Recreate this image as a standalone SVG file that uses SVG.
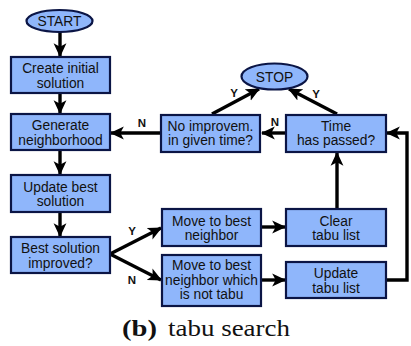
<svg xmlns="http://www.w3.org/2000/svg" width="411" height="346" viewBox="0 0 411 346">
  <style>
    .box { fill: #8fb6fb; stroke: #0b1545; stroke-width: 2.2; }
    .txt { font-family: "Liberation Sans", Arial, sans-serif; font-size: 13.8px; fill: #111; text-anchor: middle; }
    .lbl { font-family: "Liberation Sans", Arial, sans-serif; font-size: 11.5px; font-weight: bold; fill: #111; text-anchor: middle; }
    .edge { fill: none; stroke: #000; stroke-width: 3.4; marker-end: url(#head); }
    .cap { font-family: "Liberation Serif", "Times New Roman", serif; font-size: 24px; fill: #111; }
  </style>
  <defs>
    <marker id="head" markerUnits="userSpaceOnUse" markerWidth="14" markerHeight="14" viewBox="0 0 12 12" refX="11" refY="6" orient="auto">
      <path d="M0,0.5 L12,6 L0,11.5 L3,6 Z" fill="#000"/>
    </marker>
  </defs>

  <!-- connectors -->
  <g id="edges">
    <line class="edge" x1="60" y1="32" x2="60" y2="56"/>
    <line class="edge" x1="60" y1="93" x2="60" y2="113"/>
    <line class="edge" x1="60" y1="150" x2="60" y2="174"/>
    <line class="edge" x1="60" y1="212" x2="60" y2="236"/>
    <line class="edge" x1="110" y1="254" x2="161" y2="228"/>
    <line class="edge" x1="110" y1="254" x2="161" y2="280"/>
    <line class="edge" x1="261" y1="227" x2="285" y2="227"/>
    <line class="edge" x1="261" y1="280" x2="285" y2="280"/>
    <line class="edge" x1="337" y1="209" x2="337" y2="153"/>
    <polyline class="edge" points="386,280 407,280 407,133 387,133"/>
    <line class="edge" x1="286" y1="133" x2="262" y2="133"/>
    <line class="edge" x1="161" y1="133" x2="111" y2="133"/>
    <line class="edge" x1="212" y1="114" x2="259" y2="89"/>
    <line class="edge" x1="337" y1="114" x2="289" y2="89"/>
    <text class="lbl" x="132" y="235">Y</text>
    <text class="lbl" x="132" y="284">N</text>
    <text class="lbl" x="142" y="127">N</text>
    <text class="lbl" x="275" y="126">N</text>
    <text class="lbl" x="234" y="97">Y</text>
    <text class="lbl" x="316" y="98">Y</text>
  </g>

  <g id="start">
    <ellipse class="box" cx="59.5" cy="21" rx="33" ry="11"/>
    <text class="txt" x="59.5" y="25.5">START</text>
  </g>
  <g id="stop">
    <ellipse class="box" cx="274.5" cy="76.5" rx="33" ry="13"/>
    <text class="txt" x="274.5" y="81.5">STOP</text>
  </g>
  <g id="create">
    <rect class="box" x="11" y="57" width="99" height="36"/>
    <text class="txt" x="60.5" y="73">Create initial</text>
    <text class="txt" x="60.5" y="87.5">solution</text>
  </g>
  <g id="generate">
    <rect class="box" x="11" y="114" width="99" height="36"/>
    <text class="txt" x="60.5" y="130">Generate</text>
    <text class="txt" x="60.5" y="144.5">neighborhood</text>
  </g>
  <g id="update-best">
    <rect class="box" x="11" y="175" width="99" height="37"/>
    <text class="txt" x="60.5" y="191.5">Update best</text>
    <text class="txt" x="60.5" y="206">solution</text>
  </g>
  <g id="improved">
    <rect class="box" x="11" y="237" width="99" height="36"/>
    <text class="txt" x="60.5" y="253">Best solution</text>
    <text class="txt" x="60.5" y="267.5">improved?</text>
  </g>
  <g id="move-best">
    <rect class="box" x="162" y="209" width="99" height="37"/>
    <text class="txt" x="211.5" y="225.5">Move to best</text>
    <text class="txt" x="211.5" y="240">neighbor</text>
  </g>
  <g id="move-not-tabu">
    <rect class="box" x="162" y="255" width="99" height="51"/>
    <text class="txt" x="211.5" y="270">Move to best</text>
    <text class="txt" x="211.5" y="284.5">neighbor which</text>
    <text class="txt" x="211.5" y="299">is not tabu</text>
  </g>
  <g id="clear-tabu">
    <rect class="box" x="286" y="209" width="100" height="37"/>
    <text class="txt" x="336" y="225.5">Clear</text>
    <text class="txt" x="336" y="240">tabu list</text>
  </g>
  <g id="update-tabu">
    <rect class="box" x="286" y="262" width="100" height="36"/>
    <text class="txt" x="336" y="278">Update</text>
    <text class="txt" x="336" y="292.5">tabu list</text>
  </g>
  <g id="time-passed">
    <rect class="box" x="286" y="115" width="100" height="37"/>
    <text class="txt" x="336" y="130.5">Time</text>
    <text class="txt" x="336" y="145">has passed?</text>
  </g>
  <g id="no-improvement">
    <rect class="box" x="161" y="115" width="99" height="37"/>
    <text class="txt" x="210.5" y="130.5">No improvem.</text>
    <text class="txt" x="210.5" y="145">in given time?</text>
  </g>

  <text class="cap" y="336"><tspan x="122" font-weight="bold" textLength="35" lengthAdjust="spacingAndGlyphs">(b)</tspan><tspan x="168" textLength="122" lengthAdjust="spacingAndGlyphs">tabu search</tspan></text>
</svg>
